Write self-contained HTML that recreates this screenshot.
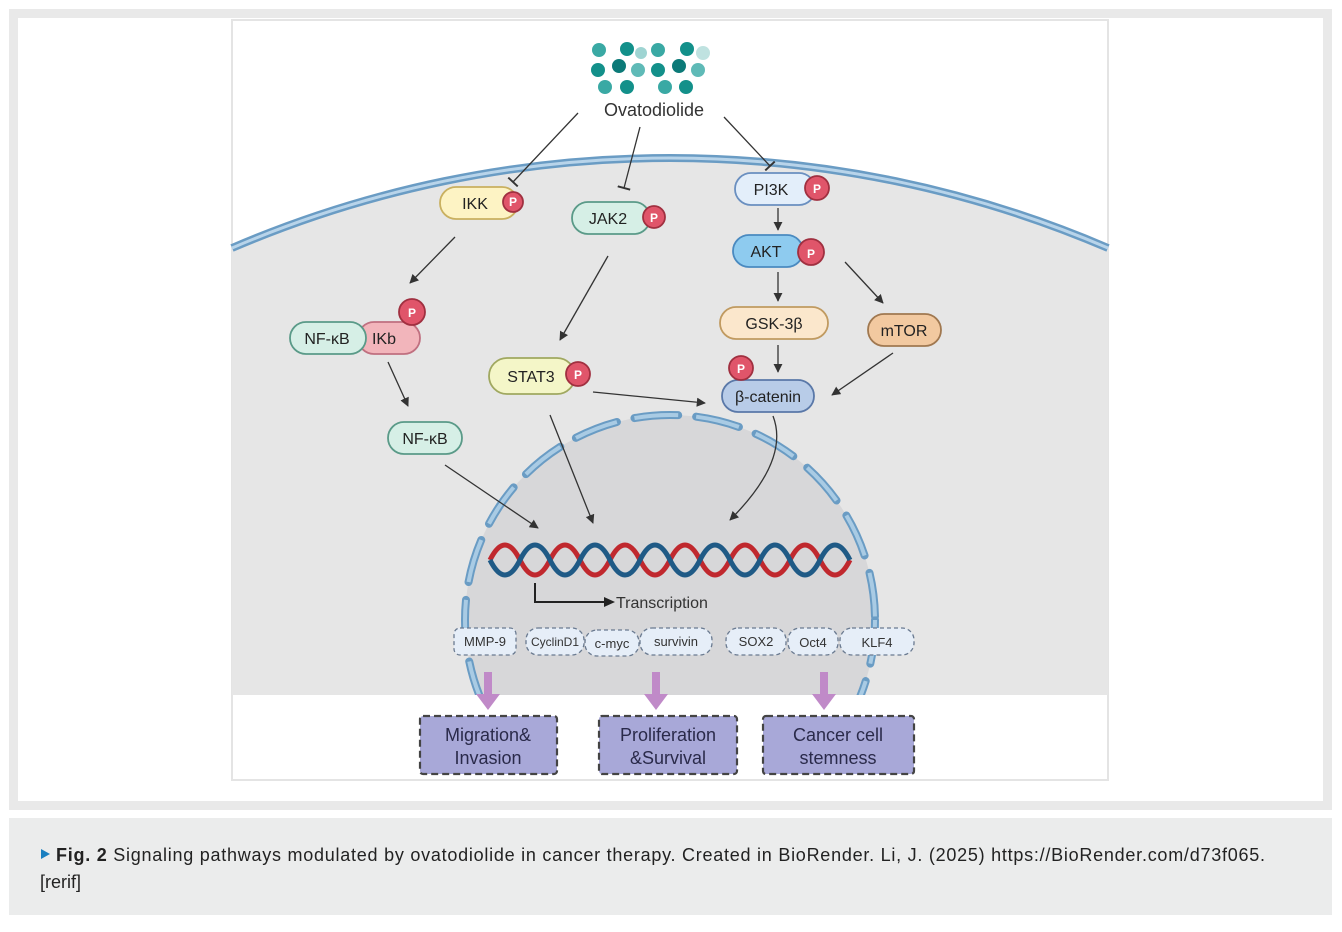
<!DOCTYPE html>
<html><head><meta charset="utf-8"><style>
html,body{margin:0;padding:0;background:#fff;}
svg{display:block;font-family:"Liberation Sans",sans-serif;}
</style></head><body>
<svg width="1342" height="932" viewBox="0 0 1342 932" xmlns="http://www.w3.org/2000/svg">
<defs>
<marker id="ah" viewBox="0 0 10 10" refX="9" refY="5" markerWidth="7" markerHeight="7" orient="auto"><path d="M0,0 L10,5 L0,10 z" fill="#333"/></marker>
<marker id="tb" viewBox="0 0 10 10" refX="5" refY="5" markerWidth="10" markerHeight="10" orient="auto"><path d="M5,0 L5,10" stroke="#333" stroke-width="1.5"/></marker>
<clipPath id="cc"><rect x="232" y="0" width="876" height="695"/></clipPath>
</defs>
<rect x="0" y="0" width="1342" height="932" fill="#fff"/>
<rect x="9" y="9" width="1323" height="801" fill="#e9e9e9"/>
<rect x="18" y="18" width="1305" height="783" fill="#fff"/>
<rect x="232" y="20" width="876" height="760" fill="#fff" stroke="#e4e4e4" stroke-width="2"/>
<path d="M232,248 A1111,1111 0 0 1 1108,248 L1108,695 L232,695 Z" fill="#e6e6e6"/>
<path d="M232,248 A1111,1111 0 0 1 1108,248" fill="none" stroke="#6a9cc4" stroke-width="8"/>
<path d="M232,248 A1111,1111 0 0 1 1108,248" fill="none" stroke="#b8d4ea" stroke-width="3"/>
<g clip-path="url(#cc)">
<circle cx="670" cy="620" r="205" fill="#d7d7d9"/>
<circle cx="670" cy="620" r="205" fill="none" stroke="#6a9cc4" stroke-width="8" stroke-dasharray="44 18" stroke-linecap="round"/>
<circle cx="670" cy="620" r="205" fill="none" stroke="#a9cbe4" stroke-width="4" stroke-dasharray="44 18"/>
</g>
<g>
<circle cx="599" cy="50" r="7" fill="#3aa9a4"/><circle cx="627" cy="49" r="7" fill="#13908a"/><circle cx="641" cy="53" r="6" fill="#9ed4d2"/><circle cx="658" cy="50" r="7" fill="#3aa9a4"/><circle cx="687" cy="49" r="7" fill="#13908a"/><circle cx="703" cy="53" r="7" fill="#bfe2e0"/>
<circle cx="598" cy="70" r="7" fill="#13908a"/><circle cx="619" cy="66" r="7" fill="#0c7a78"/><circle cx="638" cy="70" r="7" fill="#5fbab7"/><circle cx="658" cy="70" r="7" fill="#13908a"/><circle cx="679" cy="66" r="7" fill="#0c7a78"/><circle cx="698" cy="70" r="7" fill="#5fbab7"/>
<circle cx="605" cy="87" r="7" fill="#3aa9a4"/><circle cx="627" cy="87" r="7" fill="#13908a"/><circle cx="665" cy="87" r="7" fill="#3aa9a4"/><circle cx="686" cy="87" r="7" fill="#13908a"/>
</g>
<text x="654" y="116" font-size="18" fill="#333" text-anchor="middle">Ovatodiolide</text>
<g stroke="#333" stroke-width="1.3" fill="none">
<line x1="578" y1="113" x2="513" y2="182" marker-end="url(#tb)"/>
<line x1="640" y1="127" x2="624" y2="188" marker-end="url(#tb)"/>
<line x1="724" y1="117" x2="770" y2="166" marker-end="url(#tb)"/>
<line x1="455" y1="237" x2="410" y2="283" marker-end="url(#ah)"/>
<line x1="608" y1="256" x2="560" y2="340" marker-end="url(#ah)"/>
<line x1="778" y1="208" x2="778" y2="230" marker-end="url(#ah)"/>
<line x1="778" y1="272" x2="778" y2="301" marker-end="url(#ah)"/>
<line x1="845" y1="262" x2="883" y2="303" marker-end="url(#ah)"/>
<line x1="388" y1="362" x2="408" y2="406" marker-end="url(#ah)"/>
<line x1="778" y1="345" x2="778" y2="372" marker-end="url(#ah)"/>
<line x1="893" y1="353" x2="832" y2="395" marker-end="url(#ah)"/>
<line x1="593" y1="392" x2="705" y2="403" marker-end="url(#ah)"/>
<line x1="445" y1="465" x2="538" y2="528" marker-end="url(#ah)"/>
<line x1="550" y1="415" x2="593" y2="523" marker-end="url(#ah)"/>
<path d="M773,416 Q790,460 730,520" marker-end="url(#ah)"/>
</g>
<g stroke-width="1.8" font-size="16" text-anchor="middle" fill="#222">
<rect x="440" y="187" width="78" height="32" rx="16" fill="#fdf3c4" stroke="#c9b060"/><text x="475" y="209" fill="#222" stroke="none">IKK</text>
<circle cx="513" cy="202" r="10" fill="#e0556a" stroke="#a03040"/>
<rect x="572" y="202" width="78" height="32" rx="16" fill="#d6efe6" stroke="#5a9a88"/><text x="608" y="224" stroke="none">JAK2</text>
<circle cx="654" cy="217" r="11" fill="#e0556a" stroke="#a03040"/>
<rect x="735" y="173" width="80" height="32" rx="16" fill="#e3eefa" stroke="#6a8fc0"/><text x="771" y="195" stroke="none">PI3K</text>
<circle cx="817" cy="188" r="12" fill="#e0556a" stroke="#a03040"/>
<rect x="733" y="235" width="70" height="32" rx="16" fill="#8ecbef" stroke="#4a8ac0"/><text x="766" y="257" stroke="none">AKT</text>
<circle cx="811" cy="252" r="13" fill="#e0556a" stroke="#a03040"/>
<rect x="720" y="307" width="108" height="32" rx="16" fill="#fbe7cc" stroke="#c09a60"/><text x="774" y="329" stroke="none">GSK-3β</text>
<rect x="868" y="314" width="73" height="32" rx="16" fill="#f2c9a0" stroke="#a07850"/><text x="904" y="336" stroke="none">mTOR</text>
<rect x="722" y="380" width="92" height="32" rx="16" fill="#b8cce8" stroke="#5a78a8"/><text x="768" y="402" stroke="none">β-catenin</text>
<circle cx="741" cy="368" r="12" fill="#e0556a" stroke="#a03040"/>
<rect x="358" y="322" width="62" height="32" rx="16" fill="#f2b5bb" stroke="#c07080"/><text x="384" y="344" stroke="none">IKb</text>
<rect x="290" y="322" width="76" height="32" rx="16" fill="#d6efe6" stroke="#5a9a88"/><text x="327" y="344" stroke="none">NF-κB</text>
<circle cx="412" cy="312" r="13" fill="#e0556a" stroke="#a03040"/>
<rect x="489" y="358" width="86" height="36" rx="18" fill="#f4f6c8" stroke="#a0a860"/><text x="531" y="382" stroke="none">STAT3</text>
<circle cx="578" cy="374" r="12" fill="#e0556a" stroke="#a03040"/>
<rect x="388" y="422" width="74" height="32" rx="16" fill="#d6efe6" stroke="#5a9a88"/><text x="425" y="444" stroke="none">NF-κB</text>
</g>
<g fill="#fff" font-size="12" text-anchor="middle" font-weight="bold">
<text x="513" y="206">P</text><text x="654" y="222">P</text><text x="817" y="193">P</text><text x="811" y="258">P</text><text x="741" y="373">P</text><text x="412" y="317">P</text><text x="578" y="379">P</text>
</g>
<path d="M490,560 q15,-30 30,0 t30,0 t30,0 t30,0 t30,0 t30,0 t30,0 t30,0 t30,0 t30,0 t30,0 t30,0" fill="none" stroke="#c0282e" stroke-width="5"/>
<path d="M490,560 q15,30 30,0 t30,0 t30,0 t30,0 t30,0 t30,0 t30,0 t30,0 t30,0 t30,0 t30,0 t30,0" fill="none" stroke="#1f5a86" stroke-width="5"/>
<path d="M535,583 V602 H606" fill="none" stroke="#222" stroke-width="2"/>
<path d="M604,597 L615,602 L604,607 z" fill="#222"/>
<text x="616" y="608" font-size="16" fill="#333">Transcription</text>
<g fill="#e6eef8" stroke="#6a7a90" stroke-width="1.3" stroke-dasharray="4 3">
<rect x="454" y="628" width="62" height="27" rx="6"/><rect x="526" y="628" width="58" height="27" rx="12"/><rect x="585" y="630" width="54" height="26" rx="12"/><rect x="640" y="628" width="72" height="27" rx="12"/><rect x="726" y="628" width="60" height="27" rx="12"/><rect x="788" y="628" width="50" height="27" rx="12"/><rect x="840" y="628" width="74" height="27" rx="12"/>
</g>
<g font-size="13" fill="#333" text-anchor="middle">
<text x="485" y="646">MMP-9</text><text x="555" y="646" font-size="12">CyclinD1</text><text x="612" y="648">c-myc</text><text x="676" y="646">survivin</text><text x="756" y="646">SOX2</text><text x="813" y="647">Oct4</text><text x="877" y="647">KLF4</text>
</g>
<g fill="#c08ac8">
<rect x="484" y="672" width="8" height="24"/><path d="M476,694 L500,694 L488,710 z"/>
<rect x="652" y="672" width="8" height="24"/><path d="M644,694 L668,694 L656,710 z"/>
<rect x="820" y="672" width="8" height="24"/><path d="M812,694 L836,694 L824,710 z"/>
</g>
<g fill="#a8a8d8" stroke="#444" stroke-width="2.2" stroke-dasharray="7 4">
<rect x="420" y="716" width="137" height="58" rx="3"/><rect x="599" y="716" width="138" height="58" rx="3"/><rect x="763" y="716" width="151" height="58" rx="3"/>
</g>
<g font-size="18" fill="#2a2a4a" text-anchor="middle">
<text x="488" y="741">Migration&amp;</text><text x="488" y="764">Invasion</text>
<text x="668" y="741">Proliferation</text><text x="668" y="764">&amp;Survival</text>
<text x="838" y="741">Cancer cell</text><text x="838" y="764">stemness</text>
</g>
<rect x="9" y="818" width="1323" height="97" fill="#ebecec"/>
<path d="M41,849 L50,854 L41,859 z" fill="#1a7fc0"/>
<text x="56" y="861" font-size="18" fill="#222" textLength="1209" lengthAdjust="spacing"><tspan font-weight="bold">Fig. 2</tspan>  Signaling pathways modulated by ovatodiolide in cancer therapy. Created in BioRender. Li, J. (2025) https://BioRender.com/d73f065.</text>
<text x="40" y="888" font-size="18" fill="#222">[rerif]</text>
</svg>
</body></html>
